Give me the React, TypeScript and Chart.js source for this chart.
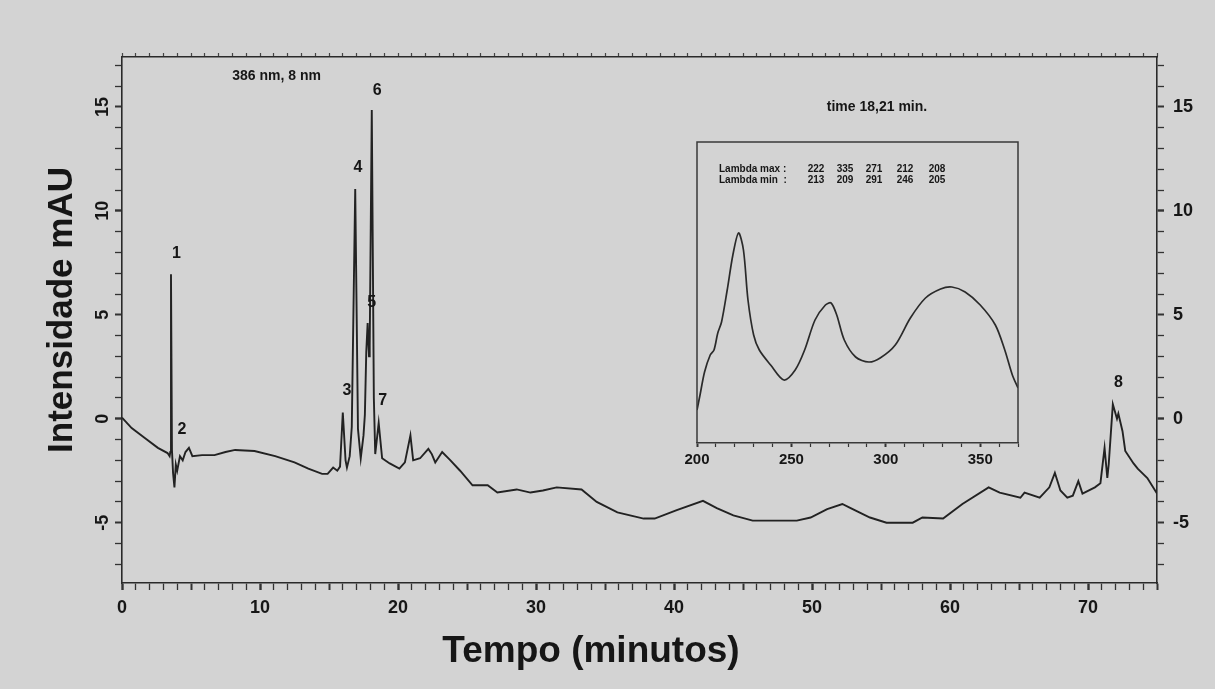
import React, { useEffect, useRef } from 'react';
import { Chart, registerables } from 'chart.js';

Chart.register(...registerables);

// ---------- Main chromatogram data ----------
const timeMin = [
  0, 0.7, 1.7, 2.6, 3.3, 3.45, 3.5, 3.55, 3.62, 3.7, 3.8, 3.9, 4.0, 4.2, 4.4, 4.6, 4.85, 5.1, 5.8, 6.7,
  7.5, 8.2, 9.6, 11.1, 12.5, 13.5, 14.5, 14.9, 15.3, 15.6, 15.8, 16.0, 16.2, 16.3, 16.5, 16.65, 16.9, 17.1, 17.3, 17.5,
  17.6, 17.7, 17.8, 17.9, 17.95, 18.1, 18.25, 18.35, 18.6, 18.85, 19.4, 20.1, 20.5, 20.9, 21.1, 21.6, 22.2, 22.45, 22.7, 23.2, 23.8, 24.5,
  25.4, 26.5, 27.2, 28.6, 29.6, 30.5, 31.5, 33.3, 34.4, 35.9, 37.8, 38.6, 40.2, 42.1, 43.1, 44.3, 45.7, 48.9, 49.9, 51.1,
  52.2, 52.8, 54.2, 55.4, 57.3, 58.0, 59.5, 60.9, 62.8, 63.6, 65.1, 65.4, 66.5, 67.2, 67.6, 68.0, 68.5, 68.9, 69.3, 69.6,
  70.5, 70.9, 71.2, 71.4, 71.5, 71.8, 72.1, 72.2, 72.5, 72.7, 73.3, 73.6, 74.3, 75.0,
];
const intensityMAU = [
  0.05, -0.45, -0.95, -1.4, -1.65, -1.8, -1.6, 6.95, -1.5, -2.6, -3.3, -2.2, -2.5, -1.8, -2.0, -1.6, -1.4, -1.8, -1.75, -1.75,
  -1.6, -1.5, -1.55, -1.8, -2.1, -2.4, -2.65, -2.65, -2.35, -2.5, -2.3, 0.3, -2.0, -2.35, -1.8, -0.4, 11.05, -0.5, -1.9, -0.8,
  0.2, 3.2, 4.6, 3.0, 3.5, 14.85, 1.0, -1.7, -0.2, -1.9, -2.15, -2.4, -2.1, -0.8, -2.0, -1.9, -1.45, -1.7, -2.1, -1.6, -2.0, -2.5,
  -3.2, -3.2, -3.55, -3.4, -3.55, -3.45, -3.3, -3.4, -4.0, -4.5, -4.8, -4.8, -4.4, -3.95, -4.3, -4.65, -4.9, -4.9, -4.75, -4.35,
  -4.1, -4.3, -4.75, -5.0, -5.0, -4.75, -4.8, -4.1, -3.3, -3.55, -3.8, -3.55, -3.8, -3.3, -2.6, -3.45, -3.8, -3.7, -3.0, -3.6,
  -3.3, -3.1, -1.4, -2.85, -2.2, 0.7, 0.0, 0.25, -0.6, -1.55, -2.15, -2.4, -2.85, -3.6,
];

const peakLabels = ['1', '2', '3', '4', '5', '6', '7', '8'];
const peakLabelX = [3.94, 4.35, 16.3, 17.1, 18.1, 18.5, 18.9, 72.2];
const peakLabelY = [7.95, -0.5, 1.35, 12.1, 5.6, 15.8, 0.85, 1.75];

const xMajorLabels = [0, 10, 20, 30, 40, 50, 60, 70];
const yMajorLabels = [-5, 0, 5, 10, 15];

const detectorText = '386 nm, 8 nm';
const xTitle = 'Tempo (minutos)';
const yTitle = 'Intensidade mAU';

// ---------- Inset UV spectrum data ----------
const spectrumNm = [
  200, 201.6, 204, 207, 209, 211, 213, 216, 219, 222, 224.6, 227, 230, 233, 239, 246, 252, 257, 262.5, 268,
  271, 274, 278, 284, 291, 297, 305, 313, 321, 329, 335, 342, 350, 358, 363, 367, 370,
];
const spectrumAbs = [
  3.3, 4.8, 7.1, 8.8, 9.3, 11.0, 12.1, 15.3, 18.8, 21.0, 19.3, 14.3, 10.8, 9.3, 7.8, 6.3, 7.3, 9.3, 12.3, 13.8,
  14.0, 12.8, 10.3, 8.6, 8.1, 8.5, 9.8, 12.5, 14.5, 15.4, 15.6, 15.1, 13.8, 11.8, 9.3, 6.8, 5.5,
];
const insetTickLabels = [200, 250, 300, 350];
const lambdaMax = ['222', '335', '271', '212', '208'];
const lambdaMin = ['213', '209', '291', '246', '205'];
const timeText = 'time 18,21 min.';

const INK = '#161616';
const BG = '#d3d3d3';
const FONT = '"Liberation Sans", Arial, sans-serif';

const mainTextPlugin = {
  id: 'mainText',
  afterDraw(chart: any) {
    const { ctx, chartArea, scales } = chart;
    const xs = scales.x;
    const ys = scales.y;
    ctx.save();
    ctx.fillStyle = INK;
    // rotated left tick labels
    ctx.font = `bold 18px ${FONT}`;
    ctx.textAlign = 'center';
    ctx.textBaseline = 'middle';
    yMajorLabels.forEach((v) => {
      const py = ys.getPixelForValue(v);
      ctx.save();
      ctx.translate(chartArea.left - 19, py);
      ctx.rotate(-Math.PI / 2);
      ctx.fillText(String(v), 0, 0);
      ctx.restore();
    });
    // peak labels
    ctx.font = `bold 16px ${FONT}`;
    peakLabels.forEach((t, i) => {
      ctx.fillText(t, xs.getPixelForValue(peakLabelX[i]), ys.getPixelForValue(peakLabelY[i]));
    });
    // detector text
    ctx.font = `bold 14px ${FONT}`;
    ctx.fillText(detectorText, xs.getPixelForValue(11.2), ys.getPixelForValue(16.5));
    // axis titles
    ctx.font = `bold 35px ${FONT}`;
    ctx.save();
    ctx.translate(chartArea.left - 60, chartArea.top + 253);
    ctx.rotate(-Math.PI / 2);
    ctx.fillText(yTitle, 0, 0);
    ctx.restore();
    ctx.font = `bold 37px ${FONT}`;
    ctx.fillText(xTitle, chartArea.left + 469, chartArea.bottom + 69);
    ctx.restore();
  },
};

const insetPlugin = {
  id: 'insetText',
  afterDraw(chart: any) {
    const { ctx, chartArea } = chart;
    ctx.save();
    ctx.strokeStyle = '#3a3a3a';
    ctx.lineWidth = 1.5;
    ctx.beginPath();
    ctx.moveTo(chartArea.left, chartArea.bottom);
    ctx.lineTo(chartArea.left, chartArea.top);
    ctx.lineTo(chartArea.right, chartArea.top);
    ctx.lineTo(chartArea.right, chartArea.bottom);
    ctx.stroke();
    ctx.fillStyle = INK;
    ctx.textBaseline = 'middle';
    ctx.font = `bold 14px ${FONT}`;
    ctx.textAlign = 'center';
    ctx.fillText(timeText, chartArea.left + 180, chartArea.top - 35);
    ctx.font = `bold 10px ${FONT}`;
    ctx.textAlign = 'left';
    ctx.fillText('Lambda max :', chartArea.left + 22, chartArea.top + 27);
    ctx.fillText('Lambda min  :', chartArea.left + 22, chartArea.top + 38);
    ctx.textAlign = 'center';
    const cols = [119, 148, 177, 208, 240];
    cols.forEach((cx, i) => {
      ctx.fillText(lambdaMax[i], chartArea.left + cx, chartArea.top + 27);
      ctx.fillText(lambdaMin[i], chartArea.left + cx, chartArea.top + 38);
    });
    ctx.restore();
  },
};

function integerTicks(min: number, max: number) {
  return (scale: any) => {
    const t: any[] = [];
    for (let v = Math.ceil(min); v <= Math.floor(max); v++) t.push({ value: v });
    scale.ticks = t;
  };
}

export default function App() {
  const mainRef = useRef<HTMLCanvasElement>(null);
  const insetRef = useRef<HTMLCanvasElement>(null);

  useEffect(() => {
    const Y_MIN = -7.9;
    const Y_MAX = 17.4;
    const tickW = (step: number) => (c: any) => {
      const v = c.tick ? c.tick.value : 0;
      if (v % (step * 2) === 0) return 2.4;
      if (v % step === 0) return 2;
      return 1.3;
    };
    const main = new Chart(mainRef.current as HTMLCanvasElement, {
      type: 'line',
      data: {
        datasets: [
          {
            data: timeMin.map((t, i) => ({ x: t, y: intensityMAU[i] })),
            borderColor: '#222222',
            borderWidth: 1.9,
            pointRadius: 0,
            tension: 0,
            fill: false,
          },
        ],
      },
      options: {
        animation: false,
        responsive: false,
        devicePixelRatio: 1,
        layout: { padding: { top: 53, left: 0, right: 0, bottom: 0 } },
        plugins: { legend: { display: false }, tooltip: { enabled: false } },
        scales: {
          x: {
            type: 'linear',
            position: 'bottom',
            min: 0,
            max: 75,
            afterBuildTicks: integerTicks(0, 75),
            afterFit: (s: any) => { s.height = 106; },
            ticks: {
              autoSkip: false,
              maxRotation: 0,
              padding: 7,
              color: INK,
              font: { family: FONT, size: 18, weight: 'bold' },
              callback: (v: any) => (xMajorLabels.includes(Number(v)) ? String(v) : ''),
            },
            grid: { drawOnChartArea: false, tickLength: 7, tickColor: '#333', tickWidth: tickW(5) },
            border: { color: '#2a2a2a', width: 1.6 },
          },
          x2: {
            type: 'linear',
            position: 'top',
            min: 0,
            max: 75,
            afterBuildTicks: integerTicks(0, 75),
            afterFit: (s: any) => { s.height = 4; },
            ticks: { display: false },
            grid: { drawOnChartArea: false, tickLength: 4, tickColor: '#444', tickWidth: 1.2 },
            border: { color: '#2a2a2a', width: 1.6 },
          },
          y: {
            type: 'linear',
            position: 'left',
            min: Y_MIN,
            max: Y_MAX,
            afterBuildTicks: integerTicks(Y_MIN, Y_MAX),
            afterFit: (s: any) => { s.width = 122; },
            ticks: { callback: () => '', autoSkip: false },
            grid: { drawOnChartArea: false, tickLength: 7, tickColor: '#333', tickWidth: tickW(5) },
            border: { color: '#2a2a2a', width: 1.6 },
          },
          y2: {
            type: 'linear',
            position: 'right',
            min: Y_MIN,
            max: Y_MAX,
            afterBuildTicks: integerTicks(Y_MIN, Y_MAX),
            afterFit: (s: any) => { s.width = 58; },
            ticks: {
              autoSkip: false,
              padding: 9,
              color: INK,
              font: { family: FONT, size: 18, weight: 'bold' },
              callback: (v: any) => (yMajorLabels.includes(Number(v)) ? String(v) : ''),
            },
            grid: { drawOnChartArea: false, tickLength: 7, tickColor: '#333', tickWidth: tickW(5) },
            border: { color: '#2a2a2a', width: 1.6 },
          },
        },
      } as any,
      plugins: [mainTextPlugin],
    });

    const inset = new Chart(insetRef.current as HTMLCanvasElement, {
      type: 'line',
      data: {
        datasets: [
          {
            data: spectrumNm.map((n, i) => ({ x: n, y: spectrumAbs[i] })),
            borderColor: '#2a2a2a',
            borderWidth: 1.7,
            pointRadius: 0,
            tension: 0.3,
            fill: false,
          },
        ],
      },
      options: {
        animation: false,
        responsive: false,
        devicePixelRatio: 1,
        layout: { padding: { top: 52, left: 37, right: 22, bottom: 0 } },
        plugins: { legend: { display: false }, tooltip: { enabled: false } },
        scales: {
          x: {
            type: 'linear',
            min: 200,
            max: 370,
            afterBuildTicks: (s: any) => {
              const t: any[] = [];
              for (let v = 200; v <= 370; v += 10) t.push({ value: v });
              s.ticks = t;
            },
            afterFit: (s: any) => { s.height = 47; },
            ticks: {
              autoSkip: false,
              maxRotation: 0,
              padding: 4,
              color: INK,
              font: { family: FONT, size: 15, weight: 'bold' },
              callback: (v: any) => (insetTickLabels.includes(Number(v)) ? String(v) : ''),
            },
            grid: {
              drawOnChartArea: false,
              tickLength: 4,
              tickColor: '#333',
              tickWidth: (c: any) => (c.tick && c.tick.value % 50 === 0 ? 2 : 1.2),
            },
            border: { color: '#3a3a3a', width: 1.5 },
          },
          y: { display: false, min: 0, max: 30.1 },
        },
      } as any,
      plugins: [insetPlugin],
    });

    return () => {
      main.destroy();
      inset.destroy();
    };
  }, []);

  return (
    <div
      style={{
        position: 'absolute',
        left: 0,
        top: 0,
        width: 1215,
        height: 689,
        background: BG,
        overflow: 'hidden',
      }}
    >
      <canvas
        ref={mainRef}
        width={1215}
        height={689}
        style={{ position: 'absolute', left: 0, top: 0, width: 1215, height: 689 }}
      />
      <canvas
        ref={insetRef}
        width={380}
        height={400}
        style={{ position: 'absolute', left: 660, top: 90, width: 380, height: 400 }}
      />
    </div>
  );
}
